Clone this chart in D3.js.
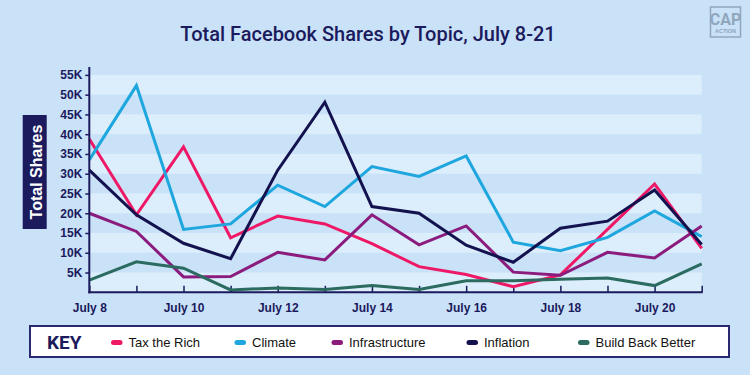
<!DOCTYPE html>
<html><head><meta charset="utf-8">
<script src="https://cdn.jsdelivr.net/npm/d3@7"></script>
<style>
html,body{margin:0;padding:0;background:#c9e2f8;}
svg{display:block;}
</style></head>
<body>
<svg id="chart" width="750" height="375"></svg>
<script>
const days = ["July 8","July 9","July 10","July 11","July 12","July 13","July 14","July 15","July 16","July 17","July 18","July 19","July 20","July 21"];
const taxTheRich = [38800,19600,36800,13800,19300,17300,12300,6500,4500,1400,4400,15900,27400,11100];
const climate = [33500,52300,15900,17300,27100,21700,31800,29300,34500,12700,10500,13900,20600,14100];
const infrastructure = [20000,15400,3900,4000,10100,8200,19600,12000,16800,5100,4300,10100,8700,16800];
const inflation = [30900,19600,12400,8500,30900,48100,21700,20000,11900,7600,16200,18000,25900,12100];
const buildBackBetter = [3100,7700,6100,600,1100,700,1700,700,2900,2900,3300,3600,1700,7200];
const seriesNames = ["Tax the Rich","Climate","Infrastructure","Inflation","Build Back Better"];
const seriesColors = ["#ee1866","#1ea6de","#8b1c7e","#13124f","#2b6b60"];
const yTicks = [5000,10000,15000,20000,25000,30000,35000,40000,45000,50000,55000];

const seriesData = [taxTheRich, climate, infrastructure, inflation, buildBackBetter];
const navy = "#1b1a5c";
const svg = d3.select("#chart");

svg.append("rect").attr("width",750).attr("height",375).attr("fill","#c9e2f8");

const x = d3.scaleLinear().domain([0, days.length-1]).range([89.3, 701.7]);
const y = d3.scaleLinear().domain([0, 57000]).range([292.3, 67]);

// stripes
const bands = [0,10000,20000,30000,40000,50000];
svg.append("g").selectAll("rect").data(bands).join("rect")
  .attr("x", x(0)).attr("width", x(days.length-1)-x(0))
  .attr("y", d=>y(d+5000)).attr("height", d=>y(d)-y(d+5000))
  .attr("fill","#dcedfc");

// title
svg.append("text").attr("x",368).attr("y",41).attr("text-anchor","middle")
  .attr("font-family","Roboto, 'Open Sans', sans-serif").attr("font-weight",500)
  .attr("font-size",20).attr("fill",navy)
  .text("Total Facebook Shares by Topic, July 8-21");

// logo
const logo = svg.append("g");
logo.append("rect").attr("x",710.5).attr("y",7).attr("width",30).attr("height",30)
  .attr("fill","none").attr("stroke","#90a6bd").attr("stroke-width",1.5);
logo.append("text").attr("x",725.5).attr("y",25).attr("text-anchor","middle")
  .attr("font-family","'Liberation Sans Narrow','Roboto',sans-serif").attr("font-weight",700)
  .attr("font-size",16).attr("fill","#90a6bd").text("CAP");
logo.append("text").attr("x",725.5).attr("y",33).attr("text-anchor","middle")
  .attr("font-family","'Liberation Sans','Roboto',sans-serif").attr("font-weight",700)
  .attr("font-size",5.5).attr("fill","#90a6bd").text("ACTION");

// y axis label
svg.append("rect").attr("x",22.7).attr("y",115).attr("width",24).attr("height",114)
  .attr("fill",navy);
svg.append("text").attr("transform","translate(41.5,172) rotate(-90)")
  .attr("text-anchor","middle").attr("font-family","'Liberation Sans',Arial,sans-serif")
  .attr("font-weight",700).attr("font-size",16).attr("fill","#ffffff").text("Total Shares");

// axes
const yAxis = d3.axisLeft(y).tickValues(yTicks).tickFormat(d=>(d/1000)+"K").tickSize(4).tickPadding(3);
const gy = svg.append("g").attr("transform",`translate(${x(0)},0)`).call(yAxis);
gy.select(".domain").remove();
gy.selectAll(".tick line").attr("stroke",navy).attr("stroke-width",1.5);
gy.selectAll(".tick text").attr("fill",navy).attr("font-family","'Liberation Sans',Arial,sans-serif")
  .attr("font-weight",700).attr("font-size",12);

const xAxis = d3.axisBottom(x).tickValues(d3.range(days.length)).tickSize(0).tickPadding(11)
  .tickFormat(i => i%2===0 ? days[i] : "");
const gx = svg.append("g").attr("transform",`translate(0,${y(0)})`).call(xAxis);
gx.select(".domain").remove();
gx.selectAll(".tick text").attr("fill",navy).attr("font-family","'Liberation Sans',Arial,sans-serif")
  .attr("font-weight",700).attr("font-size",12);
gx.selectAll(".tick").append("line").attr("y1",0).attr("y2",-6.5).attr("stroke",navy).attr("stroke-width",1.5);

// series lines
const line = d3.line().x((d,i)=>x(i)).y(d=>y(d));
svg.append("g").selectAll("path").data(seriesData).join("path")
  .attr("d", line).attr("fill","none")
  .attr("stroke",(d,i)=>seriesColors[i]).attr("stroke-width",3)
  .attr("stroke-linejoin","miter").attr("stroke-miterlimit",3);

// axis lines on top
svg.append("line").attr("x1",x(0)).attr("x2",x(0)).attr("y1",y(57000)).attr("y2",y(0)+1)
  .attr("stroke",navy).attr("stroke-width",2);
svg.append("line").attr("x1",x(0)-1).attr("x2",x(days.length-1)+1).attr("y1",y(0)).attr("y2",y(0))
  .attr("stroke",navy).attr("stroke-width",2);

// legend
const lg = svg.append("g");
lg.append("rect").attr("x",30).attr("y",326).attr("width",699).attr("height",31)
  .attr("fill","#ffffff").attr("stroke","#2a2870").attr("stroke-width",2);
lg.append("text").attr("x",47).attr("y",348.5).attr("font-family","'Liberation Sans Narrow','Roboto',sans-serif")
  .attr("font-weight",700).attr("font-size",19).attr("fill",navy).text("KEY");
const legX = [111, 234.5, 331.5, 466.5, 578];
const items = lg.selectAll("g.item").data(seriesNames).join("g").attr("class","item")
  .attr("transform",(d,i)=>`translate(${legX[i]},0)`);
items.append("rect").attr("x",0).attr("y",340).attr("width",11.5).attr("height",5).attr("rx",2.5)
  .attr("fill",(d,i)=>seriesColors[i]);
items.append("text").attr("x",17.5).attr("y",347).attr("font-family","'Liberation Sans',Arial,sans-serif")
  .attr("font-size",13).attr("fill","#111").text(d=>d);
</script>
</body></html>
